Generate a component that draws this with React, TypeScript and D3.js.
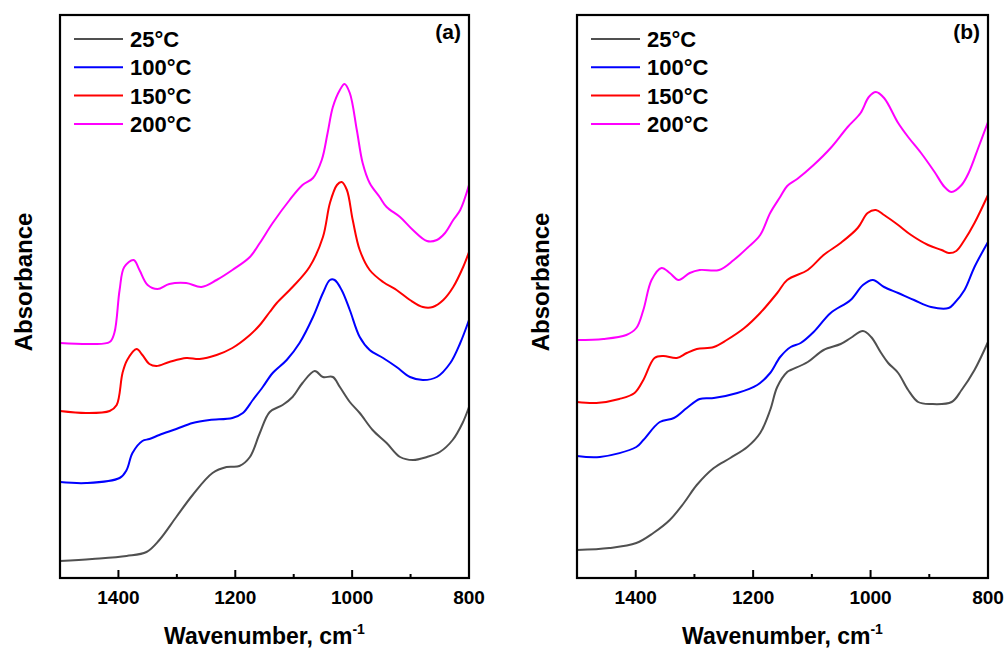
import React from 'react';
import * as d3 from 'd3';

// wavenumber (cm-1) and absorbance (a.u., stacked offsets as in the figure)
const wnA25 = [1500, 1445, 1386, 1352, 1330, 1301, 1273, 1239, 1215, 1193, 1175, 1158, 1141, 1119, 1102, 1085, 1064, 1050, 1033, 1021, 1004, 987, 965, 941, 918, 896, 872, 850, 828, 811, 800];
const abA25 = [0.17, 0.19, 0.22, 0.26, 0.38, 0.61, 0.83, 1.05, 1.11, 1.12, 1.21, 1.45, 1.66, 1.73, 1.81, 1.95, 2.07, 2.01, 2.01, 1.91, 1.76, 1.65, 1.48, 1.35, 1.21, 1.18, 1.21, 1.26, 1.38, 1.55, 1.71];

const wnA100 = [1500, 1455, 1398, 1386, 1376, 1359, 1347, 1330, 1301, 1273, 1244, 1205, 1187, 1170, 1153, 1136, 1112, 1090, 1067, 1050, 1038, 1030, 1018, 1004, 987, 970, 947, 924, 901, 879, 855, 832, 815, 800];
const abA100 = [0.96, 0.95, 1.0, 1.08, 1.25, 1.37, 1.39, 1.43, 1.49, 1.55, 1.58, 1.6, 1.65, 1.78, 1.91, 2.05, 2.18, 2.35, 2.61, 2.85, 2.98, 2.98, 2.88, 2.68, 2.41, 2.28, 2.2, 2.11, 2.01, 1.98, 2.01, 2.15, 2.35, 2.58];

const wnA150 = [1500, 1455, 1415, 1403, 1393, 1385, 1369, 1359, 1347, 1335, 1313, 1284, 1261, 1232, 1205, 1175, 1158, 1141, 1129, 1102, 1073, 1050, 1038, 1026, 1018, 1009, 999, 987, 970, 947, 924, 901, 879, 862, 844, 827, 810, 800];
const abA150 = [1.67, 1.65, 1.67, 1.73, 2.05, 2.18, 2.29, 2.23, 2.14, 2.12, 2.16, 2.2, 2.19, 2.23, 2.3, 2.43, 2.53, 2.66, 2.75, 2.91, 3.11, 3.41, 3.75, 3.93, 3.96, 3.88, 3.58, 3.28, 3.08, 2.96, 2.88, 2.78, 2.71, 2.71, 2.78, 2.91, 3.11, 3.26];

const wnA200 = [1500, 1445, 1415, 1407, 1398, 1390, 1374, 1364, 1350, 1333, 1313, 1284, 1258, 1232, 1205, 1175, 1158, 1136, 1107, 1085, 1067, 1052, 1042, 1033, 1021, 1013, 1004, 992, 982, 970, 953, 941, 918, 896, 872, 855, 841, 827, 815, 800];
const abA200 = [2.35, 2.34, 2.36, 2.45, 2.88, 3.11, 3.18, 3.08, 2.93, 2.89, 2.94, 2.95, 2.91, 2.98, 3.08, 3.21, 3.35, 3.55, 3.78, 3.93, 4.0, 4.18, 4.45, 4.71, 4.88, 4.94, 4.85, 4.48, 4.15, 3.95, 3.81, 3.71, 3.61, 3.48, 3.37, 3.38, 3.45, 3.58, 3.68, 3.93];

const wnB25 = [1500, 1445, 1399, 1370, 1342, 1318, 1296, 1267, 1239, 1210, 1188, 1171, 1159, 1142, 1136, 1107, 1080, 1051, 1034, 1013, 999, 982, 970, 953, 936, 919, 897, 862, 845, 823, 800];
const abB25 = [0.28, 0.3, 0.35, 0.45, 0.58, 0.75, 0.93, 1.1, 1.2, 1.31, 1.45, 1.68, 1.91, 2.06, 2.08, 2.16, 2.28, 2.34, 2.4, 2.47, 2.41, 2.25, 2.15, 2.05, 1.88, 1.76, 1.74, 1.76, 1.88, 2.08, 2.36];

const wnB100 = [1500, 1461, 1399, 1387, 1359, 1335, 1313, 1291, 1267, 1227, 1193, 1171, 1154, 1136, 1119, 1097, 1068, 1034, 1013, 996, 977, 953, 926, 897, 867, 857, 840, 823, 800];
const abB100 = [1.22, 1.21, 1.31, 1.38, 1.56, 1.6, 1.7, 1.79, 1.8, 1.85, 1.93, 2.05, 2.21, 2.31, 2.35, 2.46, 2.65, 2.78, 2.93, 2.98, 2.91, 2.85, 2.78, 2.71, 2.7, 2.75, 2.88, 3.11, 3.36];

const wnB150 = [1500, 1467, 1428, 1402, 1387, 1368, 1353, 1330, 1313, 1296, 1267, 1245, 1215, 1188, 1159, 1142, 1107, 1080, 1051, 1022, 1005, 991, 977, 953, 931, 902, 879, 867, 854, 840, 823, 800];
const abB150 = [1.76, 1.75, 1.79, 1.85, 1.98, 2.2, 2.22, 2.2, 2.25, 2.29, 2.31, 2.38, 2.5, 2.65, 2.85, 2.98, 3.08, 3.23, 3.35, 3.5, 3.65, 3.68, 3.63, 3.53, 3.43, 3.33, 3.28, 3.25, 3.27, 3.38, 3.55, 3.83];

const wnB200 = [1500, 1455, 1416, 1399, 1387, 1373, 1356, 1342, 1327, 1308, 1291, 1258, 1233, 1210, 1188, 1171, 1154, 1142, 1125, 1097, 1068, 1039, 1017, 1003, 991, 977, 953, 936, 914, 891, 874, 862, 845, 833, 816, 800];
const abB200 = [2.38, 2.39, 2.43, 2.5, 2.68, 2.98, 3.1, 3.05, 2.98, 3.05, 3.08, 3.08, 3.18, 3.3, 3.43, 3.65, 3.81, 3.92, 3.99, 4.13, 4.3, 4.51, 4.65, 4.81, 4.86, 4.8, 4.55, 4.41, 4.25, 4.06, 3.91, 3.86, 3.93, 4.05, 4.31, 4.56];

const seriesLabels = ['25°C', '100°C', '150°C', '200°C'];
const seriesColors = ['#505050', '#0000ff', '#ff0000', '#ff00ff'];
const majorTicks = [1400, 1200, 1000, 800];
const minorTicks = [1300, 1100, 900];

const panels = [
  { tag: '(a)', left: 60, right: 469, wn: [wnA25, wnA100, wnA150, wnA200], ab: [abA25, abA100, abA150, abA200] },
  { tag: '(b)', left: 577, right: 988, wn: [wnB25, wnB100, wnB150, wnB200], ab: [abB25, abB100, abB150, abB200] },
];

const top = 15, bottom = 578;
const font = 'Arial, "Liberation Sans", sans-serif';

const Panel = ({ p }: { p: typeof panels[0] }) => {
  const x = d3.scaleLinear().domain([1500, 800]).range([p.left, p.right]);
  const y = d3.scaleLinear().domain([0, 5.63]).range([bottom, top]);
  const line = d3.line<[number, number]>()
    .x(d => x(d[0]))
    .y(d => y(d[1]))
    .curve(d3.curveCatmullRom.alpha(0.5));
  const cx = (p.left + p.right) / 2;

  return (
    <g>
      <defs>
        <clipPath id={'clip' + p.tag}>
          <rect x={p.left} y={top} width={p.right - p.left} height={bottom - top} />
        </clipPath>
      </defs>
      <g clipPath={`url(#clip${p.tag})`}>
        {p.wn.map((wn, i) => (
          <path key={i} d={line(wn.map((w, j) => [w, p.ab[i][j]]) as [number, number][]) || ''}
            fill="none" stroke={seriesColors[i]} strokeWidth={2} strokeLinejoin="round" />
        ))}
      </g>
      <rect x={p.left} y={top} width={p.right - p.left} height={bottom - top}
        fill="none" stroke="#000" strokeWidth={2.2} />
      {majorTicks.map(t => (
        <g key={t}>
          <line x1={x(t)} x2={x(t)} y1={bottom} y2={bottom - 8} stroke="#000" strokeWidth={2} />
          <text x={x(t)} y={604} textAnchor="middle" fontSize={19} fontWeight="bold" fontFamily={font}>{t}</text>
        </g>
      ))}
      {minorTicks.map(t => (
        <line key={t} x1={x(t)} x2={x(t)} y1={bottom} y2={bottom - 4} stroke="#000" strokeWidth={2} />
      ))}
      <text x={cx} y={644} textAnchor="middle" fontSize={23} fontWeight="bold" fontFamily={font}>
        Wavenumber, cm<tspan fontSize={14} dy={-10}>-1</tspan>
      </text>
      <text transform={`translate(${p.left - 28},282) rotate(-90)`} textAnchor="middle"
        fontSize={24} fontWeight="bold" fontFamily={font}>Absorbance</text>
      <text x={p.right - 8} y={39} textAnchor="end" fontSize={21} fontWeight="bold" fontFamily={font}>{p.tag}</text>
      {seriesLabels.map((s, i) => (
        <g key={s} transform={`translate(${p.left + 14},${39 + i * 28.3})`}>
          <line x1={0} x2={49} y1={0} y2={0} stroke={seriesColors[i]} strokeWidth={2} />
          <text x={56} y={8} fontSize={22} fontWeight="bold" fontFamily={font}>{s}</text>
        </g>
      ))}
    </g>
  );
};

export default function App() {
  return (
    <svg width={1006} height={650} style={{ display: 'block', position: 'absolute', left: 0, top: 0 }}>
      <rect width={1006} height={650} fill="#fff" />
      {panels.map(p => <Panel key={p.tag} p={p} />)}
    </svg>
  );
}
